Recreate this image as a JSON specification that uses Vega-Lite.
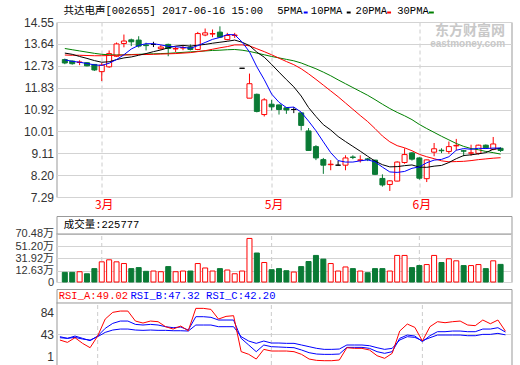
{
  "$schema": "https://vega.github.io/schema/vega-lite/v6.json",
  "padding": {"left": 13.5, "top": 5, "right": 0, "bottom": 0},
  "background": "white",
  "spacing": 19,
  "bounds": "flush",
  "config": {
    "view": {"stroke": "#999999", "strokeWidth": 1},
    "axis": {"labelFont": "Liberation Sans", "labelFontSize": 12, "labelColor": "#333333", "ticks": false, "domain": false, "gridColor": "#d3d3d3", "labelPadding": 3, "labelOverlap": false, "tickCount": 50},
    "text": {"font": "Liberation Mono", "fontSize": 10.5, "baseline": "middle", "align": "left"}
  },
  "datasets": {
    "k": [
      {"i":0,"o":12.99,"h":13.03,"l":12.80,"c":12.85,"v":10.0,"m5":12.98,"m10":13.26,"m20":13.18,"m30":13.45,"ra":32.6,"rb":38.8,"rc":36.9},
      {"i":1,"o":12.93,"h":12.95,"l":12.78,"c":12.82,"v":10.0,"m5":12.92,"m10":13.21,"m20":13.17,"m30":13.40,"ra":28.2,"rb":35.7,"rc":35.7},
      {"i":2,"o":12.87,"h":12.96,"l":12.76,"c":12.89,"v":11.0,"m5":12.88,"m10":13.12,"m20":13.17,"m30":13.35,"ra":36.9,"rb":40.0,"rc":37.5},
      {"i":3,"o":12.86,"h":12.88,"l":12.71,"c":12.73,"v":7.8,"m5":12.83,"m10":13.04,"m20":13.16,"m30":13.30,"ra":26.4,"rb":35.7,"rc":34.4},
      {"i":4,"o":12.79,"h":12.80,"l":12.52,"c":12.56,"v":15.9,"m5":12.77,"m10":12.95,"m20":13.15,"m30":13.25,"ra":18.3,"rb":31.3,"rc":32.6},
      {"i":5,"o":12.49,"h":12.85,"l":12.10,"c":12.76,"v":26.6,"m5":12.75,"m10":12.88,"m20":13.15,"m30":13.21,"ra":40.0,"rb":40.0,"rc":38.8},
      {"i":6,"o":12.69,"h":13.37,"l":12.65,"c":13.24,"v":29.8,"m5":12.84,"m10":12.90,"m20":13.16,"m30":13.19,"ra":71.6,"rb":54.3,"rc":46.8},
      {"i":7,"o":13.13,"h":13.70,"l":13.10,"c":13.64,"v":26.6,"m5":12.99,"m10":12.99,"m20":13.17,"m30":13.18,"ra":84.1,"rb":63.6,"rc":51.2},
      {"i":8,"o":13.66,"h":14.03,"l":13.50,"c":13.76,"v":23.9,"m5":13.19,"m10":13.06,"m20":13.18,"m30":13.19,"ra":86.5,"rb":67.9,"rc":53.0},
      {"i":9,"o":13.81,"h":13.86,"l":13.55,"c":13.73,"v":15.9,"m5":13.43,"m10":13.10,"m20":13.19,"m30":13.20,"ra":86.5,"rb":67.9,"rc":53.0},
      {"i":10,"o":13.80,"h":13.96,"l":13.49,"c":13.55,"v":17.5,"m5":13.58,"m10":13.17,"m20":13.20,"m30":13.21,"ra":67.9,"rb":61.7,"rc":51.2},
      {"i":11,"o":13.60,"h":13.69,"l":13.37,"c":13.57,"v":11.6,"m5":13.65,"m10":13.24,"m20":13.20,"m30":13.22,"ra":64.2,"rb":60.5,"rc":50.6},
      {"i":12,"o":13.62,"h":13.73,"l":13.51,"c":13.62,"v":12.1,"m5":13.65,"m10":13.32,"m20":13.21,"m30":13.23,"ra":67.9,"rb":61.7,"rc":51.2},
      {"i":13,"o":13.44,"h":13.59,"l":13.40,"c":13.51,"v":11.0,"m5":13.60,"m10":13.39,"m20":13.22,"m30":13.24,"ra":66.7,"rb":60.5,"rc":50.6},
      {"i":14,"o":13.62,"h":13.65,"l":13.13,"c":13.45,"v":19.1,"m5":13.54,"m10":13.48,"m20":13.23,"m30":13.25,"ra":57.4,"rb":57.4,"rc":50.6},
      {"i":15,"o":13.43,"h":13.52,"l":13.30,"c":13.45,"v":11.0,"m5":13.52,"m10":13.55,"m20":13.24,"m30":13.27,"ra":53.0,"rb":55.5,"rc":49.9},
      {"i":16,"o":13.47,"h":13.57,"l":13.38,"c":13.49,"v":12.1,"m5":13.50,"m10":13.58,"m20":13.26,"m30":13.29,"ra":58.6,"rb":56.8,"rc":49.9},
      {"i":17,"o":13.51,"h":13.62,"l":13.37,"c":13.41,"v":12.1,"m5":13.46,"m10":13.55,"m20":13.28,"m30":13.31,"ra":49.9,"rb":51.2,"rc":49.3},
      {"i":18,"o":13.41,"h":14.14,"l":13.38,"c":14.07,"v":23.9,"m5":13.57,"m10":13.59,"m20":13.32,"m30":13.33,"ra":91.5,"rb":76.0,"rc":60.5},
      {"i":19,"o":14.01,"h":14.28,"l":13.96,"c":14.10,"v":16.9,"m5":13.70,"m10":13.62,"m20":13.36,"m30":13.35,"ra":91.5,"rb":76.0,"rc":60.5},
      {"i":20,"o":14.05,"h":14.24,"l":13.92,"c":14.07,"v":12.1,"m5":13.83,"m10":13.67,"m20":13.42,"m30":13.37,"ra":89.6,"rb":74.8,"rc":60.5},
      {"i":21,"o":14.13,"h":14.37,"l":13.89,"c":13.92,"v":15.9,"m5":13.91,"m10":13.71,"m20":13.48,"m30":13.38,"ra":71.6,"rb":69.8,"rc":57.4},
      {"i":22,"o":13.82,"h":14.10,"l":13.79,"c":13.99,"v":13.7,"m5":14.03,"m10":13.75,"m20":13.53,"m30":13.40,"ra":76.6,"rb":69.8,"rc":57.4},
      {"i":23,"o":13.99,"h":14.10,"l":13.89,"c":14.01,"v":7.8,"m5":14.02,"m10":13.80,"m20":13.60,"m30":13.41,"ra":77.9,"rb":69.8,"rc":57.4},
      {"i":24,"o":12.63,"h":12.63,"l":12.63,"c":12.63,"v":12.1,"m5":13.72,"m10":13.71,"m20":13.60,"m30":13.38,"ra":11.0,"rb":35.7,"rc":38.8},
      {"i":25,"o":11.39,"h":12.41,"l":11.39,"c":11.99,"v":63.5,"m5":13.31,"m10":13.57,"m20":13.56,"m30":13.33,"ra":6.0,"rb":23.3,"rc":30.7},
      {"i":26,"o":11.55,"h":11.58,"l":10.80,"c":10.84,"v":40.5,"m5":12.69,"m10":13.30,"m20":13.44,"m30":13.26,"ra":-2.8,"rb":10.9,"rc":26.4},
      {"i":27,"o":10.71,"h":11.39,"l":10.63,"c":11.32,"v":25.5,"m5":12.16,"m10":13.09,"m20":13.32,"m30":13.19,"ra":15.2,"rb":23.3,"rc":30.7},
      {"i":28,"o":11.14,"h":11.32,"l":10.88,"c":11.03,"v":14.2,"m5":11.56,"m10":12.79,"m20":13.19,"m30":13.12,"ra":12.1,"rb":20.2,"rc":27.0},
      {"i":29,"o":11.11,"h":11.12,"l":10.71,"c":10.92,"v":15.9,"m5":11.22,"m10":12.47,"m20":13.05,"m30":13.06,"ra":12.1,"rb":19.6,"rc":27.0},
      {"i":30,"o":10.99,"h":11.00,"l":10.74,"c":10.90,"v":12.6,"m5":11.00,"m10":12.16,"m20":12.91,"m30":13.00,"ra":12.1,"rb":18.9,"rc":26.4},
      {"i":31,"o":10.92,"h":11.02,"l":10.77,"c":10.92,"v":10.5,"m5":11.02,"m10":11.86,"m20":12.78,"m30":12.94,"ra":10.9,"rb":18.3,"rc":26.4},
      {"i":32,"o":10.78,"h":10.79,"l":10.05,"c":10.26,"v":19.1,"m5":10.81,"m10":11.48,"m20":12.61,"m30":12.85,"ra":5.9,"rb":14.0,"rc":23.3},
      {"i":33,"o":10.03,"h":10.15,"l":9.20,"c":9.22,"v":27.1,"m5":10.44,"m10":11.00,"m20":12.40,"m30":12.73,"ra":-2.8,"rb":9.0,"rc":20.2},
      {"i":34,"o":9.38,"h":9.44,"l":8.82,"c":8.91,"v":36.7,"m5":10.04,"m10":10.63,"m20":12.17,"m30":12.61,"ra":-5.3,"rb":6.5,"rc":17.1},
      {"i":35,"o":8.84,"h":8.91,"l":8.25,"c":8.61,"v":30.9,"m5":9.58,"m10":10.29,"m20":11.93,"m30":12.47,"ra":-5.9,"rb":5.9,"rc":15.2},
      {"i":36,"o":8.63,"h":8.82,"l":8.40,"c":8.65,"v":23.9,"m5":9.13,"m10":10.07,"m20":11.69,"m30":12.32,"ra":-5.9,"rb":5.9,"rc":15.2},
      {"i":37,"o":8.61,"h":8.79,"l":8.61,"c":8.61,"v":12.1,"m5":8.80,"m10":9.80,"m20":11.45,"m30":12.15,"ra":-4.6,"rb":6.5,"rc":15.8},
      {"i":38,"o":8.61,"h":9.02,"l":8.40,"c":8.91,"v":18.5,"m5":8.74,"m10":9.59,"m20":11.19,"m30":11.99,"ra":18.3,"rb":18.9,"rc":23.3},
      {"i":39,"o":8.95,"h":9.02,"l":8.86,"c":8.93,"v":15.9,"m5":8.74,"m10":9.39,"m20":10.93,"m30":11.83,"ra":17.1,"rb":18.9,"rc":23.3},
      {"i":40,"o":8.81,"h":9.02,"l":8.72,"c":8.83,"v":12.1,"m5":8.79,"m10":9.19,"m20":10.67,"m30":11.67,"ra":17.1,"rb":18.9,"rc":23.3},
      {"i":41,"o":8.87,"h":8.91,"l":8.78,"c":8.85,"v":9.4,"m5":8.83,"m10":8.98,"m20":10.42,"m30":11.51,"ra":14.0,"rb":17.1,"rc":22.0},
      {"i":42,"o":8.82,"h":8.83,"l":8.20,"c":8.23,"v":15.9,"m5":8.75,"m10":8.78,"m20":10.13,"m30":11.33,"ra":3.4,"rb":10.9,"rc":18.3},
      {"i":43,"o":8.06,"h":8.23,"l":7.72,"c":7.79,"v":15.9,"m5":8.53,"m10":8.63,"m20":9.82,"m30":11.14,"ra":-1.5,"rb":7.8,"rc":15.2},
      {"i":44,"o":7.81,"h":7.98,"l":7.54,"c":7.96,"v":12.1,"m5":8.33,"m10":8.54,"m20":9.58,"m30":10.96,"ra":7.8,"rb":10.9,"rc":17.1},
      {"i":45,"o":7.95,"h":8.77,"l":7.94,"c":8.74,"v":36.7,"m5":8.31,"m10":8.55,"m20":9.42,"m30":10.80,"ra":49.3,"rb":35.7,"rc":32.6},
      {"i":46,"o":8.72,"h":9.31,"l":8.67,"c":9.05,"v":36.7,"m5":8.35,"m10":8.59,"m20":9.33,"m30":10.66,"ra":62.3,"rb":41.9,"rc":38.8},
      {"i":47,"o":9.12,"h":9.15,"l":8.80,"c":8.86,"v":17.5,"m5":8.48,"m10":8.62,"m20":9.21,"m30":10.50,"ra":56.1,"rb":40.0,"rc":37.5},
      {"i":48,"o":8.91,"h":8.94,"l":8.01,"c":8.07,"v":20.7,"m5":8.54,"m10":8.53,"m20":9.06,"m30":10.30,"ra":30.7,"rb":29.5,"rc":31.3},
      {"i":49,"o":8.05,"h":8.84,"l":7.91,"c":8.83,"v":22.3,"m5":8.71,"m10":8.52,"m20":8.96,"m30":10.13,"ra":57.4,"rb":40.6,"rc":36.9},
      {"i":50,"o":9.15,"h":9.53,"l":8.98,"c":9.29,"v":36.7,"m5":8.82,"m10":8.57,"m20":8.88,"m30":9.97,"ra":66.7,"rb":48.1,"rc":41.9},
      {"i":51,"o":9.23,"h":9.31,"l":9.11,"c":9.21,"v":25.5,"m5":8.85,"m10":8.60,"m20":8.79,"m30":9.81,"ra":64.8,"rb":48.1,"rc":41.9},
      {"i":52,"o":9.18,"h":9.59,"l":9.08,"c":9.38,"v":31.4,"m5":8.96,"m10":8.72,"m20":8.75,"m30":9.66,"ra":66.7,"rb":49.3,"rc":41.9},
      {"i":53,"o":9.41,"h":9.70,"l":9.22,"c":9.43,"v":28.2,"m5":9.23,"m10":8.88,"m20":8.76,"m30":9.51,"ra":67.9,"rb":49.3,"rc":41.9},
      {"i":54,"o":9.21,"h":9.25,"l":8.98,"c":9.19,"v":20.7,"m5":9.30,"m10":9.01,"m20":8.77,"m30":9.39,"ra":60.5,"rb":48.1,"rc":40.6},
      {"i":55,"o":9.11,"h":9.46,"l":9.00,"c":9.12,"v":20.7,"m5":9.27,"m10":9.04,"m20":8.80,"m30":9.30,"ra":59.3,"rb":48.1,"rc":40.6},
      {"i":56,"o":9.10,"h":9.46,"l":9.05,"c":9.44,"v":22.3,"m5":9.31,"m10":9.08,"m20":8.84,"m30":9.25,"ra":69.8,"rb":53.0,"rc":43.1},
      {"i":57,"o":9.44,"h":9.47,"l":9.30,"c":9.33,"v":15.9,"m5":9.30,"m10":9.13,"m20":8.87,"m30":9.18,"ra":62.9,"rb":53.0,"rc":43.1},
      {"i":58,"o":9.27,"h":9.78,"l":9.23,"c":9.49,"v":28.2,"m5":9.32,"m10":9.27,"m20":8.90,"m30":9.13,"ra":69.8,"rb":55.5,"rc":45.0},
      {"i":59,"o":9.31,"h":9.35,"l":9.16,"c":9.22,"v":22.58,"m5":9.32,"m10":9.31,"m20":8.92,"m30":9.07,"ra":49.02,"rb":47.32,"rc":42.2}
    ],
    "hdr": [{"t": "共达电声[002655] 2017-06-16 15:00"}],
    "wm1": [{"t": "东方财富网"}],
    "wm2": [{"t": "eastmoney.com"}],
    "lg5": [{"t": "5PMA"}],
    "lg10": [{"t": "10PMA"}],
    "lg20": [{"t": "20PMA"}],
    "lg30": [{"t": "30PMA"}],
    "vh": [{"t": "成交量:225777"}],
    "ra": [{"t": "RSI_A:49.02"}],
    "rbc": [{"t": "RSI_B:47.32 RSI_C:42.20"}]
  },
  "vconcat": [
    {
      "width": 455,
      "height": 175,
      "layer": [
        {
          "data": {"name": "k"},
          "mark": {"type": "rule", "strokeWidth": 1},
          "encoding": {
            "x": {"field": "i", "type": "quantitative", "scale": {"domain": [-0.45, 59.8], "nice": false, "zero": false},
              "axis": {"values": [5, 28, 48], "tickCount": 50, "labelExpr": "datum.value == 5 ? '3月' : datum.value == 28 ? '5月' : '6月'", "labelColor": "#ff0000", "labelFont": "Noto Sans CJK SC", "labelFontSize": 12, "labelOffset": 2, "labelPadding": 2, "labelOverlap": false, "grid": true, "gridDash": [4, 3], "gridColor": "#cccccc", "title": null}},
            "y": {"field": "l", "type": "quantitative", "scale": {"domain": [7.29, 14.55], "nice": false, "zero": false},
              "axis": {"values": [7.29, 8.2, 9.11, 10.01, 10.92, 11.83, 12.73, 13.64, 14.55], "tickCount": 50, "format": ".2f", "labelOverlap": false, "grid": true, "title": null}},
            "y2": {"field": "h"},
            "color": {"condition": [{"test": "datum.c > datum.o", "value": "#ff0000"}, {"test": "datum.c < datum.o", "value": "#0a7a35"}], "value": "#000000"}
          }
        },
        {
          "data": {"name": "k"},
          "mark": {"type": "bar", "size": 5, "strokeWidth": 1},
          "encoding": {
            "x": {"field": "i", "type": "quantitative"},
            "y": {"field": "o", "type": "quantitative"},
            "y2": {"field": "c"},
            "fill": {"condition": [{"test": "datum.c > datum.o", "value": "#ffffff"}, {"test": "datum.c < datum.o", "value": "#0a7a35"}], "value": "#000000"},
            "stroke": {"condition": [{"test": "datum.c > datum.o", "value": "#ff0000"}, {"test": "datum.c < datum.o", "value": "#0a7a35"}], "value": "#000000"}
          }
        },
        {"data": {"name": "k"}, "mark": {"type": "line", "color": "#008000", "strokeWidth": 1}, "encoding": {"x": {"field": "i", "type": "quantitative"}, "y": {"field": "m30", "type": "quantitative"}}},
        {"data": {"name": "k"}, "mark": {"type": "line", "color": "#ff0000", "strokeWidth": 1}, "encoding": {"x": {"field": "i", "type": "quantitative"}, "y": {"field": "m20", "type": "quantitative"}}},
        {"data": {"name": "k"}, "mark": {"type": "line", "color": "#000000", "strokeWidth": 1}, "encoding": {"x": {"field": "i", "type": "quantitative"}, "y": {"field": "m10", "type": "quantitative"}}},
        {"data": {"name": "k"}, "mark": {"type": "line", "color": "#0000ff", "strokeWidth": 1}, "encoding": {"x": {"field": "i", "type": "quantitative"}, "y": {"field": "m5", "type": "quantitative"}}},
        {
          "data": {"name": "wm1"},
          "mark": {"type": "text", "align": "right", "font": "Noto Sans CJK SC", "fontSize": 14, "fontWeight": "bold", "color": "#c8c8c8"},
          "encoding": {"x": {"datum": 59.6, "type": "quantitative"}, "y": {"datum": 14.19, "type": "quantitative"}, "text": {"field": "t", "type": "nominal"}}
        },
        {
          "data": {"name": "wm2"},
          "mark": {"type": "text", "align": "right", "font": "Liberation Sans", "fontSize": 10, "fontWeight": "bold", "color": "#c8c8c8"},
          "encoding": {"x": {"datum": 59.6, "type": "quantitative"}, "y": {"datum": 13.64, "type": "quantitative"}, "text": {"field": "t", "type": "nominal"}}
        },
        {
          "data": {"name": "hdr"},
          "mark": {"type": "text", "color": "#000000", "font": "Liberation Mono, Noto Sans CJK SC"},
          "encoding": {"x": {"datum": -0.185, "type": "quantitative"}, "y": {"datum": 14.986, "type": "quantitative"}, "text": {"field": "t", "type": "nominal"}}
        },
        {
          "data": {"name": "lg5"},
          "mark": {"type": "text", "color": "#000000"},
          "encoding": {"x": {"datum": 28.77, "type": "quantitative"}, "y": {"datum": 14.986, "type": "quantitative"}, "text": {"field": "t", "type": "nominal"}}
        },
        {
          "data": {"name": "lg10"},
          "mark": {"type": "text", "color": "#000000"},
          "encoding": {"x": {"datum": 33.31, "type": "quantitative"}, "y": {"datum": 14.986, "type": "quantitative"}, "text": {"field": "t", "type": "nominal"}}
        },
        {
          "data": {"name": "lg20"},
          "mark": {"type": "text", "color": "#000000"},
          "encoding": {"x": {"datum": 39.37, "type": "quantitative"}, "y": {"datum": 14.986, "type": "quantitative"}, "text": {"field": "t", "type": "nominal"}}
        },
        {
          "data": {"name": "lg30"},
          "mark": {"type": "text", "color": "#000000"},
          "encoding": {"x": {"datum": 45.01, "type": "quantitative"}, "y": {"datum": 14.986, "type": "quantitative"}, "text": {"field": "t", "type": "nominal"}}
        },
        {
          "data": {"name": "lg5"},
          "mark": {"type": "rule", "color": "#0000ff", "strokeWidth": 2},
          "encoding": {"x": {"datum": 32.35, "type": "quantitative"}, "x2": {"datum": 32.88}, "y": {"datum": 14.944, "type": "quantitative"}}
        },
        {
          "data": {"name": "lg10"},
          "mark": {"type": "rule", "color": "#000000", "strokeWidth": 2},
          "encoding": {"x": {"datum": 38.17, "type": "quantitative"}, "x2": {"datum": 38.7}, "y": {"datum": 14.944, "type": "quantitative"}}
        },
        {
          "data": {"name": "lg20"},
          "mark": {"type": "rule", "color": "#ff0000", "strokeWidth": 2},
          "encoding": {"x": {"datum": 43.64, "type": "quantitative"}, "x2": {"datum": 44.17}, "y": {"datum": 14.944, "type": "quantitative"}}
        },
        {
          "data": {"name": "lg30"},
          "mark": {"type": "rule", "color": "#008000", "strokeWidth": 2},
          "encoding": {"x": {"datum": 49.3, "type": "quantitative"}, "x2": {"datum": 49.96}, "y": {"datum": 14.944, "type": "quantitative"}}
        }
      ]
    },
    {
      "spacing": 7,
      "bounds": "flush",
      "vconcat": [
        {
          "width": 455,
          "height": 66,
          "layer": [
            {
              "data": {"name": "k"},
              "transform": [{"filter": {"field": "i", "oneOf": [5, 28, 48]}}],
              "mark": {"type": "rule", "color": "#cccccc", "strokeDash": [4, 3]},
              "encoding": {
                "x": {"field": "i", "type": "quantitative", "scale": {"domain": [-0.45, 59.8], "nice": false, "zero": false}, "axis": null},
                "y": {"datum": -5.2, "type": "quantitative"}, "y2": {"datum": 70.48}
              }
            },
            {
              "data": {"name": "k"},
              "mark": {"type": "bar", "size": 5, "strokeWidth": 1},
              "encoding": {
                "x": {"field": "i", "type": "quantitative"},
                "y": {"field": "v", "type": "quantitative", "scale": {"domain": [-5.2, 98.85], "nice": false, "zero": false},
                  "axis": {"values": [-5.2, 12.63, 31.92, 51.2, 70.48], "tickCount": 50, "labelExpr": "datum.value < 0 ? '0' : format(datum.value, '.2f') + '万'", "labelFont": "Liberation Sans, Noto Sans CJK SC", "labelFontSize": 11, "labelOverlap": false, "grid": true, "title": null}},
                "y2": {"datum": -5.2},
                "fill": {"condition": {"test": "datum.c >= datum.o", "value": "#ffffff"}, "value": "#0a7a35"},
                "stroke": {"condition": {"test": "datum.c >= datum.o", "value": "#ff0000"}, "value": "#0a7a35"}
              }
            },
            {
              "data": {"name": "vh"},
              "mark": {"type": "rule", "color": "#999999"},
              "encoding": {"y": {"datum": 70.48, "type": "quantitative"}}
            },
            {
              "data": {"name": "vh"},
              "mark": {"type": "text", "color": "#000000", "font": "Liberation Mono, Noto Sans CJK SC"},
              "encoding": {"x": {"datum": -0.15, "type": "quantitative"}, "y": {"datum": 85, "type": "quantitative"}, "text": {"field": "t", "type": "nominal"}}
            }
          ]
        },
        {
          "width": 455,
          "height": 76,
          "layer": [
            {
              "data": {"name": "k"},
              "transform": [{"filter": {"field": "i", "oneOf": [5, 28, 48]}}],
              "mark": {"type": "rule", "color": "#cccccc", "strokeDash": [4, 3]},
              "encoding": {
                "x": {"field": "i", "type": "quantitative", "scale": {"domain": [-0.45, 59.8], "nice": false, "zero": false}, "axis": null},
                "y": {"datum": -13.9, "type": "quantitative"}, "y2": {"datum": 101.5}
              }
            },
            {
              "data": {"name": "k"},
              "mark": {"type": "line", "color": "#0000ff", "strokeWidth": 1},
              "encoding": {
                "x": {"field": "i", "type": "quantitative"},
                "y": {"field": "rc", "type": "quantitative", "scale": {"domain": [-13.9, 127.55], "nice": false, "zero": false},
                  "axis": {"values": [1, 43, 84], "tickCount": 50, "format": "d", "labelOverlap": false, "grid": true, "gridColor": {"condition": {"test": "datum.value == 43", "value": "#d3d3d3"}, "value": "transparent"}, "title": null}}
              }
            },
            {"data": {"name": "k"}, "mark": {"type": "line", "color": "#0000ff", "strokeWidth": 1}, "encoding": {"x": {"field": "i", "type": "quantitative"}, "y": {"field": "rb", "type": "quantitative"}}},
            {"data": {"name": "k"}, "mark": {"type": "line", "color": "#ff0000", "strokeWidth": 1}, "encoding": {"x": {"field": "i", "type": "quantitative"}, "y": {"field": "ra", "type": "quantitative"}}},
            {
              "data": {"name": "ra"},
              "mark": {"type": "rule", "color": "#999999"},
              "encoding": {"y": {"datum": 101.5, "type": "quantitative"}}
            },
            {
              "data": {"name": "ra"},
              "mark": {"type": "text", "color": "#ff0000"},
              "encoding": {"x": {"datum": -0.15, "type": "quantitative"}, "y": {"datum": 114.5, "type": "quantitative"}, "text": {"field": "t", "type": "nominal"}}
            },
            {
              "data": {"name": "rbc"},
              "mark": {"type": "text", "color": "#0000ff"},
              "encoding": {"x": {"datum": 9.35, "type": "quantitative"}, "y": {"datum": 114.5, "type": "quantitative"}, "text": {"field": "t", "type": "nominal"}}
            }
          ]
        }
      ]
    }
  ]
}
